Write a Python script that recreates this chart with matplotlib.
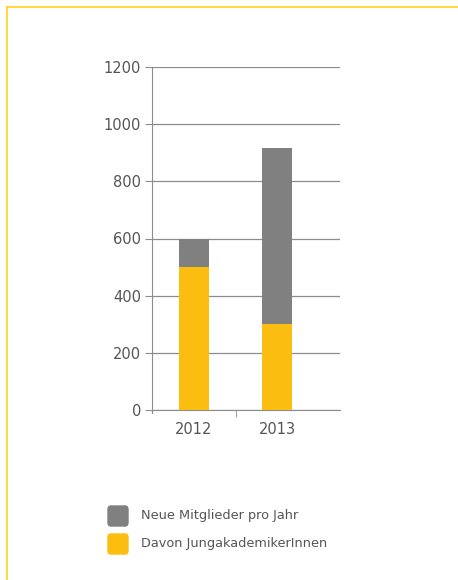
import matplotlib.pyplot as plt
from matplotlib.patches import FancyBboxPatch
from matplotlib.lines import Line2D

years = ['2012', '2013']
neue_mitglieder = [600, 915]
jungakademiker = [500, 300]
labels = ['Neue Mitglieder pro Jahr', 'Davon JungakademikerInnen']

gray = '#808080'
yellow = '#FBBE10'
axis_col = '#8c8c8c'
text_col = '#555555'

plt.rcParams['font.family'] = ['DejaVu Sans']

fig = plt.figure(figsize=(4.58, 5.80), dpi=100)
fig.patch.set_facecolor('white')

# yellow frame, top and left only
fig.add_artist(Line2D([7/458, 1], [1-7/580, 1-7/580], color='#FFD21F', lw=1.2))
fig.add_artist(Line2D([7/458, 7/458], [0, 1-7/580], color='#FFD21F', lw=1.2))

ax = fig.add_axes([152/458, 1-410/580, (340-152)/458, (410-67)/580])
x = list(range(len(years)))
ax.bar(x, neue_mitglieder, width=0.36, color=gray, zorder=3)
ax.bar(x, jungakademiker, width=0.36, color=yellow, zorder=4)

ax.set_xlim(-0.5, 1.75)
ax.set_ylim(0, 1200)
ax.set_yticks(range(0, 1201, 200))
ax.yaxis.grid(True, color=axis_col, lw=0.9, zorder=0)
ax.set_xticks(x)
ax.set_xticklabels(years)
ax.set_xticks([0.5], minor=True)
ax.tick_params(axis='x', which='major', length=0, pad=9, labelsize=10.5, labelcolor=text_col)
ax.tick_params(axis='x', which='minor', length=5, color=axis_col, direction='out')
ax.tick_params(axis='y', length=5, color=axis_col, labelsize=10.5, labelcolor=text_col, pad=3)
for s in ['top', 'right']:
    ax.spines[s].set_visible(False)
ax.spines['left'].set_color(axis_col)
ax.spines['bottom'].set_color(axis_col)
ax.spines['left'].set_bounds(-10, 1200)

# legend
for i, (lab, col) in enumerate(zip(labels, [gray, yellow])):
    yc = 516 + i * 28
    box = FancyBboxPatch((108/458, 1-(yc+10)/580), 20/458, 20/580,
                         boxstyle='round,pad=0,rounding_size=0.006',
                         transform=fig.transFigure, color=col)
    fig.add_artist(box)
    fig.text(141/458, 1-yc/580, lab, fontsize=9.3, color=text_col, va='center')

fig.savefig('out.png', dpi=100)
